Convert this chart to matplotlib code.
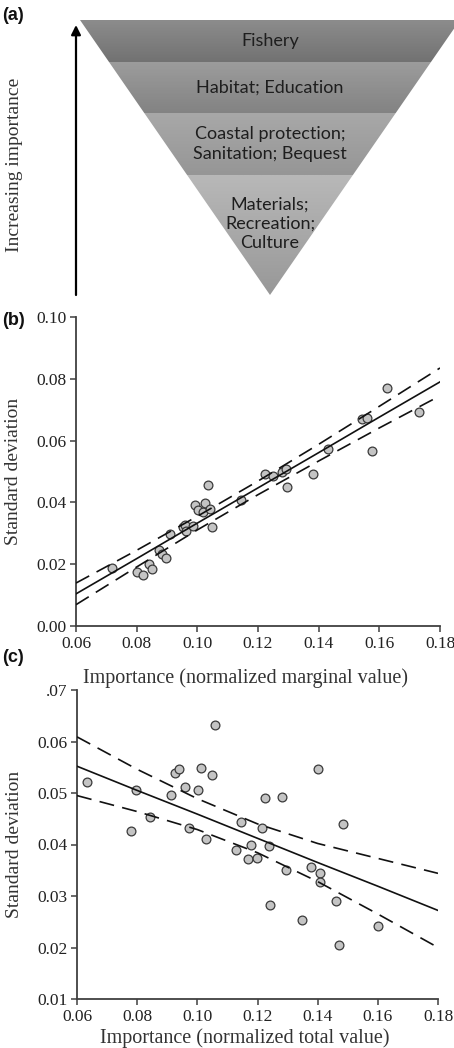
import matplotlib
matplotlib.use("Agg")
import matplotlib.pyplot as plt
import numpy as np
from matplotlib.patches import Polygon
from matplotlib.colors import LinearSegmentedColormap

# ---- data ----
tiers = ["Fishery", "Habitat; Education", "Coastal protection;\nSanitation; Bequest",
         "Materials;\nRecreation;\nCulture"]
tier_shades = [("#8c8c8c", "#727272"), ("#9c9c9c", "#838383"),
               ("#a8a8a8", "#969696"), ("#b8b8b8", "#989898")]

# (b) marginal value
imp_b = [0.0718, 0.0800, 0.0820, 0.0841, 0.0849, 0.0875, 0.0885, 0.0897, 0.0910,
         0.0952, 0.0959, 0.0963, 0.0987, 0.0992, 0.1003, 0.1020, 0.1025, 0.1036,
         0.1042, 0.1048, 0.1143, 0.1223, 0.1248, 0.1278, 0.1291, 0.1295, 0.1382,
         0.1432, 0.1544, 0.1560, 0.1576, 0.1624, 0.1732]
sd_b = [0.0187, 0.0176, 0.0164, 0.0201, 0.0184, 0.0246, 0.0232, 0.0220, 0.0297,
        0.0320, 0.0327, 0.0306, 0.0324, 0.0390, 0.0374, 0.0370, 0.0397, 0.0457,
        0.0379, 0.0321, 0.0408, 0.0492, 0.0485, 0.0500, 0.0509, 0.0451, 0.0493,
        0.0574, 0.0670, 0.0674, 0.0565, 0.0770, 0.0694]

band_x = [0.06, 0.08, 0.10, 0.12, 0.14, 0.16, 0.18]
fit_b = [0.0104, 0.0218, 0.0333, 0.0447, 0.0561, 0.0676, 0.0790]
upper_b = [0.0139, 0.0245, 0.0355, 0.0469, 0.0588, 0.0711, 0.0835]
lower_b = [0.0069, 0.0191, 0.0311, 0.0425, 0.0534, 0.0641, 0.0745]

# (c) total value
imp_c = [0.0632, 0.0781, 0.0795, 0.0844, 0.0911, 0.0926, 0.0940, 0.0959, 0.0971,
         0.1003, 0.1011, 0.1030, 0.1050, 0.1060, 0.1130, 0.1145, 0.1168, 0.1180,
         0.1199, 0.1214, 0.1226, 0.1238, 0.1242, 0.1283, 0.1296, 0.1347, 0.1379,
         0.1401, 0.1407, 0.1409, 0.1462, 0.1471, 0.1485, 0.1601]
sd_c = [0.0522, 0.0426, 0.0506, 0.0453, 0.0497, 0.0538, 0.0546, 0.0511, 0.0432,
        0.0505, 0.0549, 0.0411, 0.0535, 0.0633, 0.0389, 0.0444, 0.0372, 0.0400,
        0.0373, 0.0433, 0.0491, 0.0398, 0.0283, 0.0492, 0.0350, 0.0253, 0.0356,
        0.0546, 0.0344, 0.0328, 0.0291, 0.0205, 0.0440, 0.0242]
fit_c = [0.0552, 0.0505, 0.0459, 0.0412, 0.0365, 0.0319, 0.0272]
upper_c = [0.0609, 0.0546, 0.0489, 0.0440, 0.0402, 0.0373, 0.0344]
lower_c = [0.0495, 0.0464, 0.0429, 0.0384, 0.0328, 0.0265, 0.0200]

x_ticks = [0.06, 0.08, 0.10, 0.12, 0.14, 0.16, 0.18]
y_ticks_b = [0.00, 0.02, 0.04, 0.06, 0.08, 0.10]
y_ticks_c = [0.01, 0.02, 0.03, 0.04, 0.05, 0.06, 0.07]
y_labels_c = ["0.01", "0.02", "0.03", "0.04", "0.05", "0.06", ".07"]

W, H = 454, 1048
fig = plt.figure(figsize=(W / 100, H / 100), dpi=100)

serif = "Liberation Serif"
ink = "#222222"
axis_col = "#404040"

# ---- (a) funnel ----
ax_a = fig.add_axes([0, 1 - 300 / H, 1, 300 / H])
top_y, apex_y, apex_x, half_top = 20, 295, 270, 190
bounds = [20, 62, 113, 175, 295]
label_y = [41, 88, 144, 224]


def half_w(y):
    return half_top * (apex_y - y) / (apex_y - top_y)


grad = np.linspace(0, 1, 64).reshape(-1, 1)
for i, name in enumerate(tiers):
    y0, y1 = bounds[i], bounds[i + 1]
    verts = [(apex_x - half_w(y0), y0), (apex_x + half_w(y0), y0),
             (apex_x + half_w(y1), y1), (apex_x - half_w(y1), y1)]
    patch = Polygon(verts, closed=True, facecolor="none", edgecolor="none")
    ax_a.add_patch(patch)
    cmap = LinearSegmentedColormap.from_list("t%d" % i, tier_shades[i])
    im = ax_a.imshow(grad, cmap=cmap, aspect="auto", origin="upper",
                     extent=(apex_x - half_w(y0), apex_x + half_w(y0), y1, y0))
    im.set_clip_path(patch)
    ax_a.text(apex_x, label_y[i], name, ha="center", va="center", fontsize=13,
              family="Lato", color="#1e1e1e", linespacing=1.25)

ax_a.annotate("", xy=(76, 25), xytext=(76, 295),
              arrowprops=dict(arrowstyle="-|>", color="black", lw=1.6,
                              mutation_scale=14, shrinkA=0, shrinkB=0))
ax_a.text(15, 165, "Increasing importance", rotation=90, ha="center", va="center",
          fontsize=14, family=serif, color="#333333")
ax_a.set_xlim(0, W)
ax_a.set_ylim(300, 0)
ax_a.axis("off")


def style_axes(ax):
    for s in ["top", "right"]:
        ax.spines[s].set_visible(False)
    for s in ["left", "bottom"]:
        ax.spines[s].set_color(axis_col)
        ax.spines[s].set_linewidth(1.3)
    ax.tick_params(direction="out", length=4, width=1.1, color=axis_col,
                   labelsize=12.5, labelcolor=ink, pad=3)
    for lab in ax.get_xticklabels() + ax.get_yticklabels():
        lab.set_family(serif)


dash = (0, (9, 5))
pt_style = dict(s=40, facecolor="#c4c4c4", edgecolor="#3a3a3a", linewidths=0.9, zorder=3)

# ---- (b) ----
ax_b = fig.add_axes([76 / W, 1 - 626 / H, 364 / W, 309 / H])
ax_b.scatter(imp_b, sd_b, **pt_style)
ax_b.plot(band_x, fit_b, color="#111111", lw=1.2, zorder=4)
ax_b.plot(band_x, upper_b, color="#111111", lw=1.2, ls=dash, zorder=4)
ax_b.plot(band_x, lower_b, color="#111111", lw=1.2, ls=dash, zorder=4)
ax_b.set_xlim(0.06, 0.18)
ax_b.set_ylim(0.0, 0.10)
ax_b.set_xticks(x_ticks)
ax_b.set_xticklabels(["%.2f" % v for v in x_ticks])
ax_b.set_yticks(y_ticks_b)
ax_b.set_yticklabels(["%.2f" % v for v in y_ticks_b])
style_axes(ax_b)
ax_b.set_ylabel("Standard deviation", family=serif, fontsize=14, color="#333333")
ax_b.yaxis.set_label_coords(-0.148, 0.5)
ax_b.set_xlabel("Importance (normalized marginal value)", family=serif,
                fontsize=14.5, color="#333333")
ax_b.xaxis.set_label_coords(0.465, -0.137)

# ---- (c) ----
ax_c = fig.add_axes([77 / W, 1 - 999 / H, 361 / W, 309 / H])
ax_c.scatter(imp_c, sd_c, **pt_style)
ax_c.plot(band_x, fit_c, color="#111111", lw=1.2, zorder=4)
ax_c.plot(band_x, upper_c, color="#111111", lw=1.2, ls=dash, zorder=4)
ax_c.plot(band_x, lower_c, color="#111111", lw=1.2, ls=dash, zorder=4)
ax_c.set_xlim(0.06, 0.18)
ax_c.set_ylim(0.01, 0.07)
ax_c.set_xticks(x_ticks)
ax_c.set_xticklabels(["%.2f" % v for v in x_ticks])
ax_c.set_yticks(y_ticks_c)
ax_c.set_yticklabels(y_labels_c)
style_axes(ax_c)
ax_c.set_ylabel("Standard deviation", family=serif, fontsize=14, color="#333333")
ax_c.yaxis.set_label_coords(-0.15, 0.5)
ax_c.set_xlabel("Importance (normalized total value)", family=serif,
                fontsize=14.5, color="#333333")
ax_c.xaxis.set_label_coords(0.465, -0.094)

# ---- panel letters ----
for letter, ypix in [("(a)", 15), ("(b)", 320), ("(c)", 658)]:
    fig.text(2 / W, 1 - ypix / H, letter, ha="left", va="center", fontsize=13,
             fontweight="bold", family="Liberation Sans", color="#111111")

fig.savefig("out.png", dpi=100)
